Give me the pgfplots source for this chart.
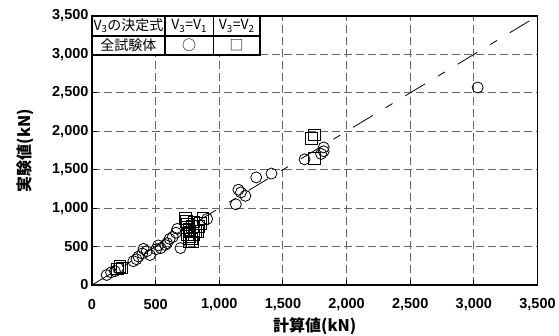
\documentclass[border=0pt]{standalone}
\usepackage{fontspec}
\setmainfont{Liberation Sans}
\newfontfamily\jp{Noto Sans CJK JP}
\usepackage{pgfplots}
\pgfplotsset{compat=1.18}
\newcommand\tickfont{\fontsize{14.5}{17}\selectfont\bfseries}
\newcommand\labfont{\jp\fontsize{16}{18}\selectfont\bfseries}
\newcommand\tabfont{\jp\fontsize{14}{16}\selectfont}
\pgfplotstableread{
x y
115 130
150 165
180 180
205 220
325 310
350 335
365 370
395 410
405 470
430 440
455 390
505 465
520 515
540 480
575 520
590 545
610 600
635 625
660 680
670 730
695 480
905 860
1130 1050
1150 1240
1170 1205
1205 1160
1290 1400
1410 1450
1670 1635
1800 1705
1820 1740
1820 1790
3030 2570
}\circdata
\pgfplotstableread{
x y
200 210
220 245
235 225
735 870
740 830
750 790
745 750
760 720
770 690
750 660
765 630
780 600
760 570
790 560
800 650
810 700
830 700
850 800
870 870
840 760
790 760
800 820
1725 1910
1745 1955
1745 1650
}\sqdata
\begin{document}
\begin{tikzpicture}
\begin{axis}[
  name=ax, at={(0,0)}, anchor=south west,
  scale only axis, width=445.5pt, height=269pt,
  xmin=0, xmax=3500, ymin=0, ymax=3500,
  xtick={0,500,...,3500}, ytick={0,500,...,3500},
  scaled ticks=false,
  /pgf/number format/assume math mode=true,
  /pgf/number format/1000 sep={,},
  tick label style={font=\tickfont},
  xticklabel style={anchor=center, yshift=-20pt},
  grid=major,
  major grid style={draw=black!60, line width=0.9pt, dash pattern=on 8pt off 4pt},
  tick pos=left, tick align=inside, major tick length=5pt,
  tick style={black, line width=0.9pt},
  axis line style={line width=1.2pt},
  xlabel={計算値(kN)}, ylabel={実験値(kN)},
  label style={font=\labfont},
  xlabel style={at={(axis description cs:0.5,-0.152)}, anchor=center},
  ylabel style={at={(axis description cs:-0.1504,0.5)}, anchor=center},
]
\addplot[black, line width=0.8pt, dash pattern=on 23pt off 15pt on 8pt off 15pt] coordinates {(0,0) (3500,3500)};
\addplot[only marks, mark=o, mark size=5.5pt, mark options={black, line width=0.8pt}] table[x=x,y=y] {\circdata};
\addplot[only marks, mark=square, mark size=5.8pt, mark options={black, line width=0.8pt}] table[x=x,y=y] {\sqdata};
\end{axis}
\draw[line width=1.2pt, fill=white] (0,230pt) rectangle (168pt,269pt);
\draw[line width=1.2pt] (0,249pt) -- (168pt,249pt);
\draw[line width=1.2pt] (73pt,230pt) -- (73pt,269pt);
\draw[line width=1.2pt] (121.3pt,230pt) -- (121.3pt,269pt);
\node[font=\tabfont] at (36.5pt,259pt) {V\textsubscript{3}の決定式};
\node[font=\tabfont] at (97.2pt,259pt) {V\textsubscript{3}=V\textsubscript{1}};
\node[font=\tabfont] at (144.7pt,259pt) {V\textsubscript{3}=V\textsubscript{2}};
\node[font=\tabfont] at (36.5pt,239.5pt) {全試験体};
\node[font=\tabfont] at (97.2pt,239.5pt) {○};
\node[font=\tabfont] at (144.7pt,239.5pt) {□};
\pgfresetboundingbox
\path[use as bounding box] (-92pt,-51pt) rectangle (467pt,285pt);
\end{tikzpicture}
\end{document}
